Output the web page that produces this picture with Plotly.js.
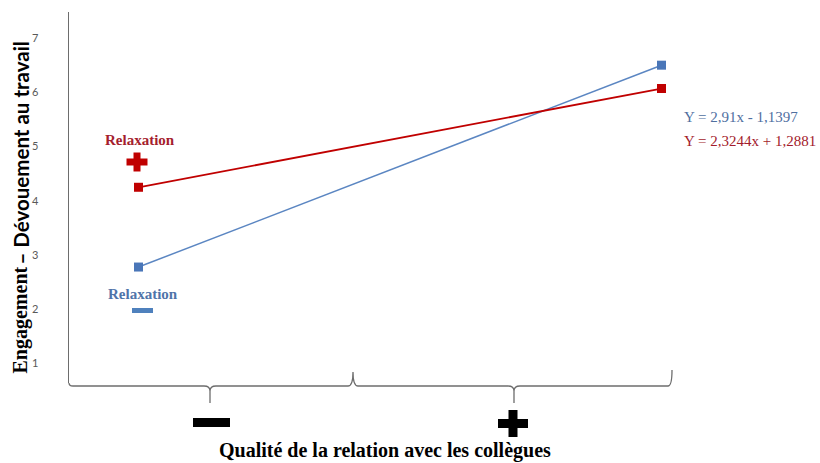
<!DOCTYPE html>
<html>
<head>
<meta charset="utf-8">
<script src="https://cdn.plot.ly/plotly-3.0.1.min.js"></script>
<style>html,body{margin:0;padding:0;background:#fff;}#chart{width:820px;height:463px;}</style>
</head>
<body>
<div id="chart"></div>
<script>
// ---- data ----
var relationLevels = [-1, 1];          // qualité de la relation : faible (−) / élevée (+)
var relaxHigh = [4.25, 6.07];          // Relaxation + (rouge)
var relaxLow = [2.78, 6.50];           // Relaxation − (bleu)
var yTicks = [1, 2, 3, 4, 5, 6, 7];
var eqLow = "Y = 2,91x - 1,1397";
var eqHigh = "Y = 2,3244x + 1,2881";
var yTitleA = "Engagement";
var yTitleB = "– Dévouement au travail";
var xTitle = "Qualité de la relation avec les collègues";
var groupLabel = "Relaxation";

// ---- layout geometry (pixels -> paper) ----
var W = 820, H = 463, L = 69, R = 140, T = 12, B = 80;
var pw = W - L - R, ph = H - T - B;
function px(x) { return (x - L) / pw; }
function py(y) { return (H - B - y) / ph; }

var RED = '#C00000', BLUE = '#4F81BD', GRAY = '#6d6d6d';

var traces = [
  { x: relationLevels, y: relaxLow, mode: 'lines+markers', type: 'scatter',
    line: { color: '#5B86C2', width: 1.5 },
    marker: { symbol: 'square', size: 9, color: '#4A76B8' }, cliponaxis: false },
  { x: relationLevels, y: relaxHigh, mode: 'lines+markers', type: 'scatter',
    line: { color: RED, width: 1.8 },
    marker: { symbol: 'square', size: 9, color: RED }, cliponaxis: false }
];

function P(x, y) { return px(x).toFixed(5) + ',' + py(y).toFixed(5); }
var brace = 'M' + P(69, 383) + ' Q' + P(69, 386) + ' ' + P(73, 386) +
  ' L' + P(204, 386) + ' Q' + P(210, 386) + ' ' + P(210, 391) + ' L' + P(210, 403) +
  ' M' + P(210, 391) + ' Q' + P(210, 386) + ' ' + P(216, 386) +
  ' L' + P(348, 386) + ' Q' + P(353, 386) + ' ' + P(353, 372) +
  ' Q' + P(353, 386) + ' ' + P(358, 386) +
  ' L' + P(508, 386) + ' Q' + P(514, 386) + ' ' + P(514, 391) + ' L' + P(514, 403) +
  ' M' + P(514, 391) + ' Q' + P(514, 386) + ' ' + P(520, 386) +
  ' L' + P(668, 386) + ' Q' + P(672, 386) + ' ' + P(672, 370);

function rect(x0, y0, x1, y1, c) {
  return { type: 'rect', xref: 'paper', yref: 'paper', x0: px(x0), x1: px(x1), y0: py(y1), y1: py(y0),
    fillcolor: c, line: { width: 0 }, layer: 'above' };
}
function plus(cx, cy, w, h, t, c) {
  return [rect(cx - w / 2, cy - t / 2, cx + w / 2, cy + t / 2, c),
          rect(cx - t / 2, cy - h / 2, cx + t / 2, cy + h / 2, c)];
}

var shapes = [
  { type: 'path', xref: 'paper', yref: 'paper', path: brace, line: { color: GRAY, width: 1.3 } }
].concat(plus(137, 162, 21, 19, 7, RED))
 .concat([rect(132, 308, 153, 313, BLUE)])
 .concat([rect(193, 418, 230, 427, '#000')])
 .concat(plus(513, 423.5, 30, 27, 9, '#000'));

var serif = 'Liberation Serif, Times New Roman, serif';
var annotations = [
  { xref: 'paper', yref: 'paper', x: px(20), y: py(376), textangle: -90, showarrow: false,
    xanchor: 'center', yanchor: 'bottom', text: '<b>' + yTitleA + '</b>',
    font: { family: serif, size: 20, color: '#000' } },
  { xref: 'paper', yref: 'paper', x: px(20), y: py(267), textangle: -90, showarrow: false,
    xanchor: 'center', yanchor: 'bottom', text: '<b>' + yTitleB + '</b>',
    font: { family: 'Lato, sans-serif', size: 20.5, color: '#000' } },
  { xref: 'paper', yref: 'paper', x: px(385), y: py(450), showarrow: false,
    xanchor: 'center', yanchor: 'middle', text: '<b>' + xTitle + '</b>',
    font: { family: serif, size: 20, color: '#000' } },
  { xref: 'paper', yref: 'paper', x: px(140), y: py(140), showarrow: false,
    xanchor: 'center', yanchor: 'middle', text: '<b>' + groupLabel + '</b>',
    font: { family: serif, size: 15, color: '#A51E2E' } },
  { xref: 'paper', yref: 'paper', x: px(143), y: py(294), showarrow: false,
    xanchor: 'center', yanchor: 'middle', text: '<b>' + groupLabel + '</b>',
    font: { family: serif, size: 15, color: '#4F74A9' } },
  { xref: 'paper', yref: 'paper', x: px(682), y: py(117), showarrow: false,
    xanchor: 'left', yanchor: 'middle', text: eqLow,
    font: { family: serif, size: 15, color: '#4F6F9F' } },
  { xref: 'paper', yref: 'paper', x: px(682), y: py(141), showarrow: false,
    xanchor: 'left', yanchor: 'middle', text: eqHigh,
    font: { family: serif, size: 15, color: '#A31B2B' } }
];

var layout = {
  width: W, height: H,
  margin: { l: L, r: R, t: T, b: B, pad: 0 },
  paper_bgcolor: '#fff', plot_bgcolor: '#fff',
  showlegend: false,
  xaxis: { range: [-1.2658, 1.0707], visible: false, fixedrange: true },
  yaxis: { range: [0.643, 7.48], tickvals: yTicks, ticktext: yTicks.map(String),
    showgrid: false, zeroline: false, showline: true, linecolor: GRAY, linewidth: 1.3,
    ticks: '', ticklabelstandoff: 27,
    tickfont: { family: 'Lato, sans-serif', size: 11, color: '#595959' } },
  shapes: shapes,
  annotations: annotations
};

Plotly.newPlot('chart', traces, layout, { displayModeBar: false, staticPlot: true });
</script>
</body>
</html>
